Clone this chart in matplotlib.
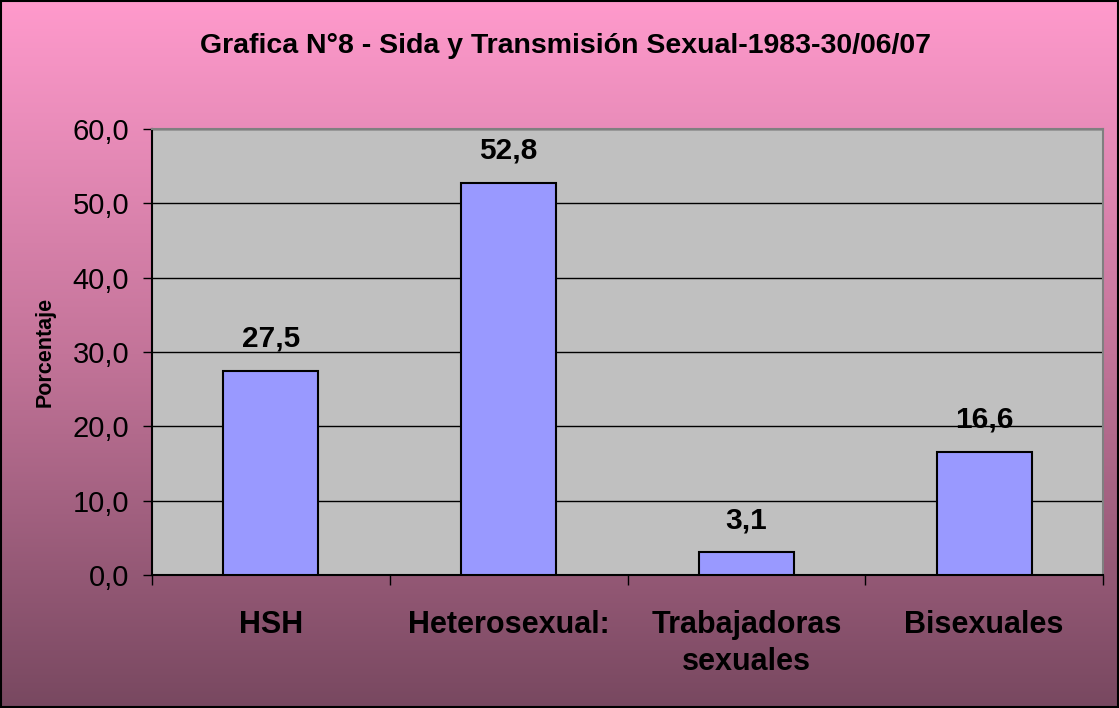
import numpy as np
import matplotlib.pyplot as plt
from matplotlib.colors import LinearSegmentedColormap

# Datos

categorias = ["HSH", "Heterosexual:", "Trabajadoras\nsexuales", "Bisexuales"]
porcentajes = [27.5, 52.8, 3.1, 16.6]
etiquetas = ["27,5", "52,8", "3,1", "16,6"]
ticks_y = [0, 10, 20, 30, 40, 50, 60]

plt.rcParams["font.family"] = ["Liberation Sans", "DejaVu Sans"]

fig = plt.figure(figsize=(11.19, 7.08), dpi=100)

# Fondo degradado (rosa arriba, morado oscuro abajo)
bg = fig.add_axes([0, 0, 1, 1], zorder=0)
cmap = LinearSegmentedColormap.from_list("fondo", ["#FF9ACC", "#C37499", "#784860"])
bg.imshow(np.linspace(0, 1, 256).reshape(-1, 1), aspect="auto", cmap=cmap,
          extent=[0, 1, 0, 1], origin="upper")
bg.set_xlim(0, 1)
bg.set_ylim(0, 1)
bg.axis("off")
fig.patches.append(plt.Rectangle((0.001, 0.001), 0.998, 0.997, transform=fig.transFigure,
                                 fill=False, edgecolor="black", linewidth=1.5))

ax = fig.add_axes([152 / 1119, 1 - 575 / 708, (1103 - 152) / 1119, (575 - 129) / 708], zorder=1)
ax.set_facecolor("#C0C0C0")

x = np.arange(len(categorias))
ax.bar(x, porcentajes, width=0.4, color="#9999FF", edgecolor="black", linewidth=1.5, zorder=3)
for xi, v, t in zip(x, porcentajes, etiquetas):
    ax.annotate(t, (xi, v), xytext=(0, 23), textcoords="offset points",
                ha="center", va="center", fontsize=21.5, fontweight="bold")

ax.set_xlim(-0.5, len(categorias) - 0.5)
ax.set_ylim(0, 60)
ax.set_yticks(ticks_y)
ax.set_yticklabels([f"{v:.1f}".replace(".", ",") for v in ticks_y], fontsize=21)
ax.yaxis.grid(True, color="black", linewidth=1)
ax.set_axisbelow(True)

ax.set_xticks(x)
ax.set_xticklabels(categorias, fontsize=22, fontweight="bold", linespacing=1.33)
ax.set_xticks(np.arange(-0.5, len(categorias)), minor=True)
ax.tick_params(axis="x", which="major", length=0, pad=25)
ax.tick_params(axis="x", which="minor", length=7, width=1)
ax.tick_params(axis="y", length=6.5, width=1, pad=10)

ax.spines["left"].set_color("black")
ax.spines["bottom"].set_color("black")
ax.spines["top"].set_color("#808080")
ax.spines["right"].set_color("#808080")
for s in ax.spines.values():
    s.set_linewidth(1.5)

ax.set_ylabel("Porcentaje", fontsize=15.5, fontweight="bold")
ax.yaxis.set_label_coords(56 / 1119, 1 - 352 / 708, transform=fig.transFigure)
fig.text(566 / 1119, 1 - 46 / 708, "Grafica N°8 - Sida y Transmisión Sexual-1983-30/06/07",
         ha="center", va="center", fontsize=20.5, fontweight="bold")

fig.savefig("out.png", dpi=100)
